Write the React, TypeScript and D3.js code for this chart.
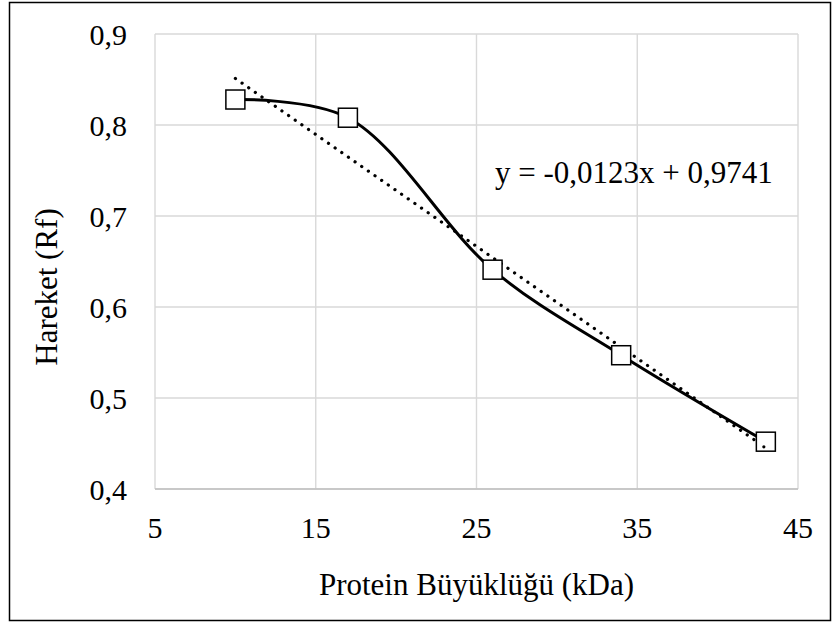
import React, { useEffect, useRef } from "react";
import * as d3 from "d3";

// protein size (kDa) vs mobility (Rf)
const proteinSize = [10, 17, 26, 34, 43];
const rfValues = [0.828, 0.808, 0.641, 0.547, 0.452];

// linear trendline from the chart label
const trendSlope = -0.0123;
const trendIntercept = 0.9741;
const trendLabel = "y = -0,0123x + 0,9741";

const xTicks = [5, 15, 25, 35, 45];
const yTicks = [0.4, 0.5, 0.6, 0.7, 0.8, 0.9];

const xTitle = "Protein Büyüklüğü (kDa)";
const yTitle = "Hareket (Rf)";

const App = () => {
  const svgRef = useRef<SVGSVGElement>(null);

  const width = 832;
  const height = 623;
  const margin = { top: 34, right: 34, bottom: 134, left: 155 };

  useEffect(() => {
    document.body.style.margin = "0";

    const svg = d3.select(svgRef.current);
    svg.selectAll("*").remove();

    const font = '"Liberation Serif", "Times New Roman", Times, serif';

    const x = d3
      .scaleLinear()
      .domain([5, 45])
      .range([margin.left, width - margin.right]);

    const y = d3
      .scaleLinear()
      .domain([0.4, 0.9])
      .range([height - margin.bottom, margin.top]);

    // white background + outer frame
    svg
      .append("rect")
      .attr("x", 9.5)
      .attr("y", 2.5)
      .attr("width", 821)
      .attr("height", 618)
      .attr("fill", "#fff")
      .attr("stroke", "#000")
      .attr("stroke-width", 1.5);

    // gridlines
    const grid = svg.append("g").attr("stroke", "#d9d9d9").attr("stroke-width", 1.4);
    grid
      .selectAll("line.h")
      .data(yTicks)
      .enter()
      .append("line")
      .attr("x1", x(5))
      .attr("x2", x(45))
      .attr("y1", (d) => y(d))
      .attr("y2", (d) => y(d));
    grid
      .selectAll("line.v")
      .data(xTicks)
      .enter()
      .append("line")
      .attr("x1", (d) => x(d))
      .attr("x2", (d) => x(d))
      .attr("y1", y(0.4))
      .attr("y2", y(0.9));

    // bottom axis line
    svg
      .append("line")
      .attr("x1", x(5))
      .attr("x2", x(45))
      .attr("y1", y(0.4))
      .attr("y2", y(0.4))
      .attr("stroke", "#bfbfbf")
      .attr("stroke-width", 1.5);

    const labels = svg.append("g").style("font-family", font).attr("fill", "#000");

    // tick labels
    labels
      .selectAll("text.xt")
      .data(xTicks)
      .enter()
      .append("text")
      .attr("x", (d) => x(d))
      .attr("y", y(0.4) + 49)
      .attr("text-anchor", "middle")
      .style("font-size", "30px")
      .text((d) => String(d));

    labels
      .selectAll("text.yt")
      .data(yTicks)
      .enter()
      .append("text")
      .attr("x", margin.left - 28)
      .attr("y", (d) => y(d))
      .attr("dy", "0.35em")
      .attr("text-anchor", "end")
      .style("font-size", "30px")
      .text((d) => d.toFixed(1).replace(".", ","));

    // axis titles
    labels
      .append("text")
      .attr("x", (x(5) + x(45)) / 2)
      .attr("y", 595)
      .attr("text-anchor", "middle")
      .style("font-size", "31px")
      .text(xTitle);

    labels
      .append("text")
      .attr("transform", "translate(57,287) rotate(-90)")
      .attr("text-anchor", "middle")
      .style("font-size", "31px")
      .text(yTitle);

    const pts: [number, number][] = proteinSize.map((d, i) => [d, rfValues[i]]);

    // smoothed data line
    const line = d3
      .line<[number, number]>()
      .x((d) => x(d[0]))
      .y((d) => y(d[1]))
      .curve(d3.curveCatmullRom.alpha(0.5));

    svg
      .append("path")
      .attr("d", line(pts))
      .attr("fill", "none")
      .attr("stroke", "#000")
      .attr("stroke-width", 3);

    // dotted linear trendline
    const xMin = d3.min(proteinSize) as number;
    const xMax = d3.max(proteinSize) as number;
    svg
      .append("line")
      .attr("x1", x(xMin))
      .attr("y1", y(trendSlope * xMin + trendIntercept))
      .attr("x2", x(xMax))
      .attr("y2", y(trendSlope * xMax + trendIntercept))
      .attr("stroke", "#000")
      .attr("stroke-width", 3.2)
      .attr("stroke-linecap", "round")
      .attr("stroke-dasharray", "0.1 8");

    // square markers
    const size = 19;
    svg
      .selectAll("rect.m")
      .data(pts)
      .enter()
      .append("rect")
      .attr("x", (d) => x(d[0]) - size / 2)
      .attr("y", (d) => y(d[1]) - size / 2)
      .attr("width", size)
      .attr("height", size)
      .attr("fill", "#fff")
      .attr("stroke", "#000")
      .attr("stroke-width", 1.5);

    // last trend dot shows inside the end marker, like the original
    svg
      .append("circle")
      .attr("cx", x(xMax) - 2)
      .attr("cy", y(trendSlope * xMax + trendIntercept) - 1)
      .attr("r", 1.6)
      .attr("fill", "#000");

    // trendline equation
    labels
      .append("text")
      .attr("x", 495)
      .attr("y", 183)
      .style("font-size", "31px")
      .text(trendLabel);
  }, []);

  return (
    <svg
      ref={svgRef}
      width={width}
      height={height}
      style={{ display: "block" }}
    ></svg>
  );
};

export default App;
